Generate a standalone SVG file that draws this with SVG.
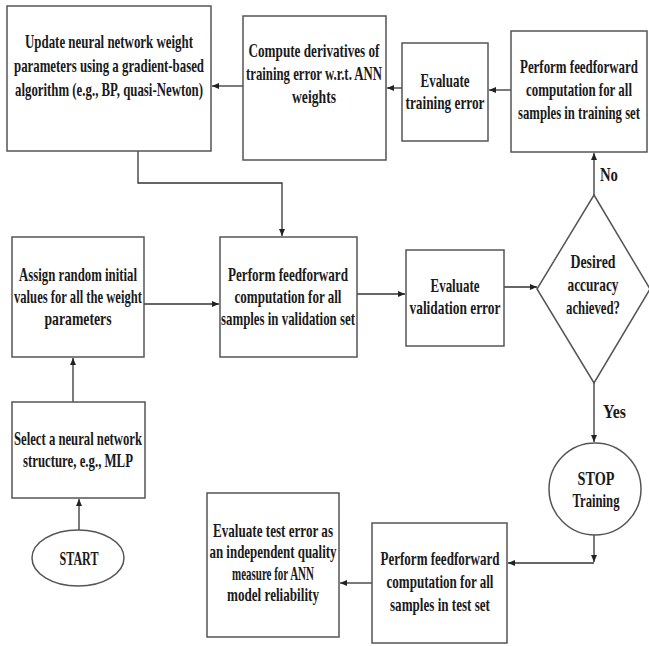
<svg xmlns="http://www.w3.org/2000/svg" width="649" height="646" viewBox="0 0 649 646">
<defs>
<marker id="ah" markerUnits="userSpaceOnUse" markerWidth="8" markerHeight="7" refX="7" refY="3" orient="auto">
<path d="M0,0 L7,3 L0,6 z" fill="#222"/>
</marker>
<style>
.box{fill:#fff;stroke:#555;stroke-width:1.5}
.t{font-family:"Liberation Serif","Times New Roman",serif;font-weight:bold;font-size:18px;fill:#1a1a1a;text-anchor:middle}
.lbl{font-family:"Liberation Serif","Times New Roman",serif;font-weight:bold;font-size:19px;fill:#1a1a1a}
.c{fill:none;stroke:#333;stroke-width:1.3;marker-end:url(#ah)}
</style>
</defs>
<rect width="649" height="646" fill="#fff"/>

<g id="connectors">
<polyline class="c" points="138,151 138,183 282,183 282,236"/>
<line class="c" x1="144" y1="304" x2="219" y2="304"/>
<line class="c" x1="357" y1="294" x2="405" y2="294"/>
<line class="c" x1="504" y1="287" x2="537" y2="287"/>
<line class="c" x1="594" y1="195" x2="594" y2="153"/>
<line class="c" x1="594" y1="383" x2="594" y2="442"/>
<line class="c" x1="511" y1="90" x2="489" y2="90"/>
<line class="c" x1="402" y1="88" x2="387" y2="88"/>
<line class="c" x1="243" y1="86" x2="212" y2="86"/>
<line class="c" x1="594" y1="535" x2="594" y2="562"/>
<line class="c" x1="594" y1="563" x2="508" y2="563"/>
<line class="c" x1="372" y1="583" x2="340" y2="583"/>
<line class="c" x1="73" y1="402" x2="73" y2="358"/>
<line class="c" x1="79" y1="530" x2="79" y2="499"/>
<g transform="scale(0.72 1)">
<text class="lbl" x="833.33" y="181" textLength="25" lengthAdjust="spacingAndGlyphs">No</text>
<text class="lbl" x="837.5" y="418" textLength="31.94" lengthAdjust="spacingAndGlyphs">Yes</text>
</g>
</g>

<g id="update">
<rect class="box" x="7" y="6" width="204" height="145"/>
<g transform="scale(0.72 1)">
<text class="t" x="151.39" y="48" textLength="233.33" lengthAdjust="spacingAndGlyphs">Update neural network weight</text>
<text class="t" x="151.39" y="72" textLength="263.89" lengthAdjust="spacingAndGlyphs">parameters using a gradient-based</text>
<text class="t" x="151.39" y="96" textLength="261.11" lengthAdjust="spacingAndGlyphs">algorithm (e.g., BP, quasi-Newton)</text>
</g>
</g>

<g id="derivatives">
<rect class="box" x="243" y="16" width="143" height="144"/>
<g transform="scale(0.72 1)">
<text class="t" x="436.11" y="57" textLength="181.94" lengthAdjust="spacingAndGlyphs">Compute derivatives of</text>
<text class="t" x="436.11" y="80" textLength="188.89" lengthAdjust="spacingAndGlyphs">training error w.r.t. ANN</text>
<text class="t" x="436.11" y="103" textLength="61.11" lengthAdjust="spacingAndGlyphs">weights</text>
</g>
</g>

<g id="eval-train">
<rect class="box" x="402" y="43" width="86" height="98"/>
<g transform="scale(0.72 1)">
<text class="t" x="618.06" y="87" textLength="68.06" lengthAdjust="spacingAndGlyphs">Evaluate</text>
<text class="t" x="618.06" y="109" textLength="109.72" lengthAdjust="spacingAndGlyphs">training error</text>
</g>
</g>

<g id="ff-train">
<rect class="box" x="511" y="31" width="136" height="121"/>
<g transform="scale(0.72 1)">
<text class="t" x="804.17" y="73" textLength="163.89" lengthAdjust="spacingAndGlyphs">Perform feedforward</text>
<text class="t" x="804.17" y="96" textLength="147.22" lengthAdjust="spacingAndGlyphs">computation for all</text>
<text class="t" x="804.17" y="119" textLength="169.44" lengthAdjust="spacingAndGlyphs">samples in training set</text>
</g>
</g>

<g id="assign">
<rect class="box" x="12" y="237" width="132" height="120"/>
<g transform="scale(0.72 1)">
<text class="t" x="108.33" y="281" textLength="163.89" lengthAdjust="spacingAndGlyphs">Assign random initial</text>
<text class="t" x="108.33" y="303" textLength="177.78" lengthAdjust="spacingAndGlyphs">values for all the weight</text>
<text class="t" x="108.33" y="325" textLength="93.06" lengthAdjust="spacingAndGlyphs">parameters</text>
</g>
</g>

<g id="ff-valid">
<rect class="box" x="220" y="237" width="137" height="120"/>
<g transform="scale(0.72 1)">
<text class="t" x="400" y="281" textLength="166.67" lengthAdjust="spacingAndGlyphs">Perform feedforward</text>
<text class="t" x="400" y="303" textLength="148.61" lengthAdjust="spacingAndGlyphs">computation for all</text>
<text class="t" x="400" y="325" textLength="186.11" lengthAdjust="spacingAndGlyphs">samples in validation set</text>
</g>
</g>

<g id="eval-valid">
<rect class="box" x="406" y="250" width="98" height="96"/>
<g transform="scale(0.72 1)">
<text class="t" x="631.94" y="292" textLength="68.06" lengthAdjust="spacingAndGlyphs">Evaluate</text>
<text class="t" x="631.94" y="314" textLength="126.39" lengthAdjust="spacingAndGlyphs">validation error</text>
</g>
</g>

<g id="decision">
<polygon class="box" points="594,195 650,289 594,383 537,289"/>
<g transform="scale(0.72 1)">
<text class="t" x="823.61" y="268" textLength="62.5" lengthAdjust="spacingAndGlyphs">Desired</text>
<text class="t" x="823.61" y="291" textLength="70.83" lengthAdjust="spacingAndGlyphs">accuracy</text>
<text class="t" x="823.61" y="314" textLength="75" lengthAdjust="spacingAndGlyphs">achieved?</text>
</g>
</g>

<g id="stop">
<ellipse class="box" cx="595" cy="489" rx="46" ry="46"/>
<g transform="scale(0.72 1)">
<text class="t" x="827.78" y="485" textLength="51.39" lengthAdjust="spacingAndGlyphs">STOP</text>
<text class="t" x="827.78" y="507" textLength="65.28" lengthAdjust="spacingAndGlyphs">Training</text>
</g>
</g>

<g id="ff-test">
<rect class="box" x="372" y="523" width="135" height="120"/>
<g transform="scale(0.72 1)">
<text class="t" x="611.11" y="565" textLength="165.28" lengthAdjust="spacingAndGlyphs">Perform feedforward</text>
<text class="t" x="611.11" y="588" textLength="148.61" lengthAdjust="spacingAndGlyphs">computation for all</text>
<text class="t" x="611.11" y="611" textLength="138.89" lengthAdjust="spacingAndGlyphs">samples in test set</text>
</g>
</g>

<g id="eval-test">
<rect class="box" x="207" y="493" width="132" height="144"/>
<g transform="scale(0.72 1)">
<text class="t" x="379.17" y="537" textLength="166.67" lengthAdjust="spacingAndGlyphs">Evaluate test error as</text>
<text class="t" x="379.17" y="558" textLength="176.39" lengthAdjust="spacingAndGlyphs">an independent quality</text>
<text class="t" x="379.17" y="580" textLength="113.89" lengthAdjust="spacingAndGlyphs">measure for ANN</text>
<text class="t" x="379.17" y="601" textLength="127.78" lengthAdjust="spacingAndGlyphs">model reliability</text>
</g>
</g>

<g id="select">
<rect class="box" x="12" y="402" width="133" height="96"/>
<g transform="scale(0.72 1)">
<text class="t" x="108.33" y="445" textLength="177.78" lengthAdjust="spacingAndGlyphs">Select a neural network</text>
<text class="t" x="108.33" y="467" textLength="152.78" lengthAdjust="spacingAndGlyphs">structure, e.g., MLP</text>
</g>
</g>

<g id="start">
<ellipse class="box" cx="78" cy="558" rx="46" ry="28"/>
<g transform="scale(0.72 1)">
<text class="t" x="109.72" y="565" textLength="54.17" lengthAdjust="spacingAndGlyphs">START</text>
</g>
</g>
</svg>
